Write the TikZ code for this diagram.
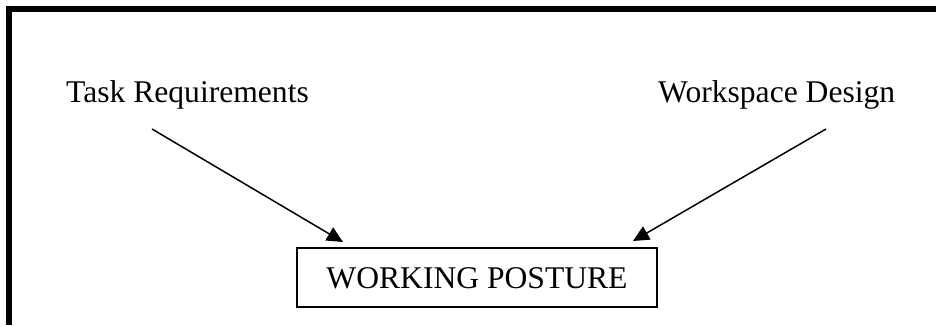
\documentclass[tikz,border=0pt]{standalone}
\usepackage{fontspec}
\setmainfont{Liberation Serif}
\usetikzlibrary{arrows.meta}
\begin{document}
\begin{tikzpicture}[x=1pt,y=-1pt,
  lbl/.style={anchor=base west, inner sep=0pt, font=\fontsize{31.6}{38}\selectfont},
  postbox/.style={draw, line width=2pt, minimum width=360pt, minimum height=59pt,
    inner sep=0pt, text height=21pt, text depth=0pt, font=\fontsize{31.6}{38}\selectfont},
  conn/.style={line width=1.5pt, -{Triangle[length=16pt,width=15pt]}}]
\useasboundingbox (0,0) rectangle (936,325);
\fill[black] (6,6) rectangle (936,12);
\fill[black] (6,6) rectangle (12,325);
\node[lbl] (tr) at (66,102) {Task Requirements};
\node[lbl] (wd) at (658,102) {Workspace Design};
\node[postbox] (wp) at (477,277.5) {WORKING POSTURE};
\coordinate (a1s) at (152,129);
\coordinate (a1e) at (343,242);
\coordinate (a2s) at (826,129);
\coordinate (a2e) at (633,241);
\draw[conn] (a1s) -- (a1e);
\draw[conn] (a2s) -- (a2e);
\end{tikzpicture}
\end{document}
